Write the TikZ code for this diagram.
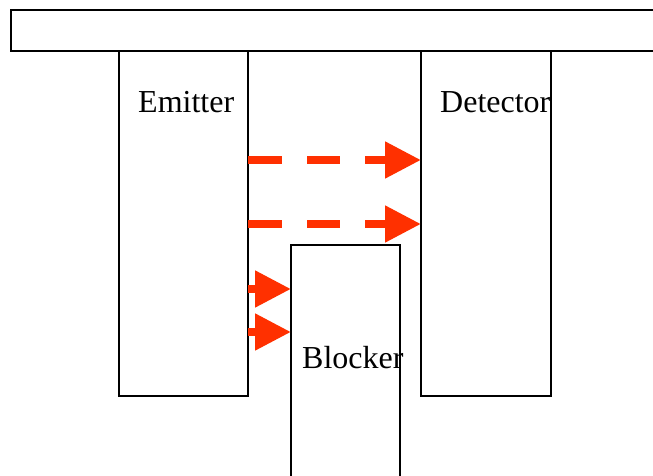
\documentclass[tikz,border=0pt]{standalone}
\usepackage{fontspec}
\setmainfont{Liberation Serif}
\usetikzlibrary{arrows.meta}
\definecolor{beam}{RGB}{255,48,0}
\tikzset{
  boxstyle/.style={draw=black, line width=1.6pt, fill=white, rectangle, inner sep=0pt, outer sep=0pt, anchor=north west},
  label/.style={font=\fontsize{32}{36}\selectfont, inner sep=0pt, anchor=base west},
  beamline/.style={draw=beam, line width=8pt, -{Triangle[length=36pt,width=35pt]}},
  longbeam/.style={beamline, dash pattern=on 34pt off 25pt on 33pt off 25pt on 200pt}
}
\begin{document}
\begin{tikzpicture}[x=1pt,y=-1pt]
\useasboundingbox (0,0) rectangle (653,476);
\clip (0,0) rectangle (653,476);
\node[boxstyle, minimum width=680pt, minimum height=41pt] (bar) at (11,10) {};
\node[boxstyle, minimum width=129pt, minimum height=345pt] (emitter) at (119,51) {};
\node[boxstyle, minimum width=130pt, minimum height=345pt] (detector) at (421,51) {};
\node[boxstyle, minimum width=109pt, minimum height=260pt] (blocker) at (291,245) {};
\node[label] (emtext) at (138,113) {Emitter};
\node[label] (dettext) at (440,113) {Detector};
\node[label] (blktext) at (302,368) {Blocker};
\draw[longbeam] (emitter.east |- 0,160) -- (detector.west |- 0,160);
\draw[longbeam] (emitter.east |- 0,224) -- (detector.west |- 0,224);
\draw[beamline] (emitter.east |- 0,289) -- (blocker.west |- 0,289);
\draw[beamline] (emitter.east |- 0,332) -- (blocker.west |- 0,332);
\end{tikzpicture}
\end{document}
